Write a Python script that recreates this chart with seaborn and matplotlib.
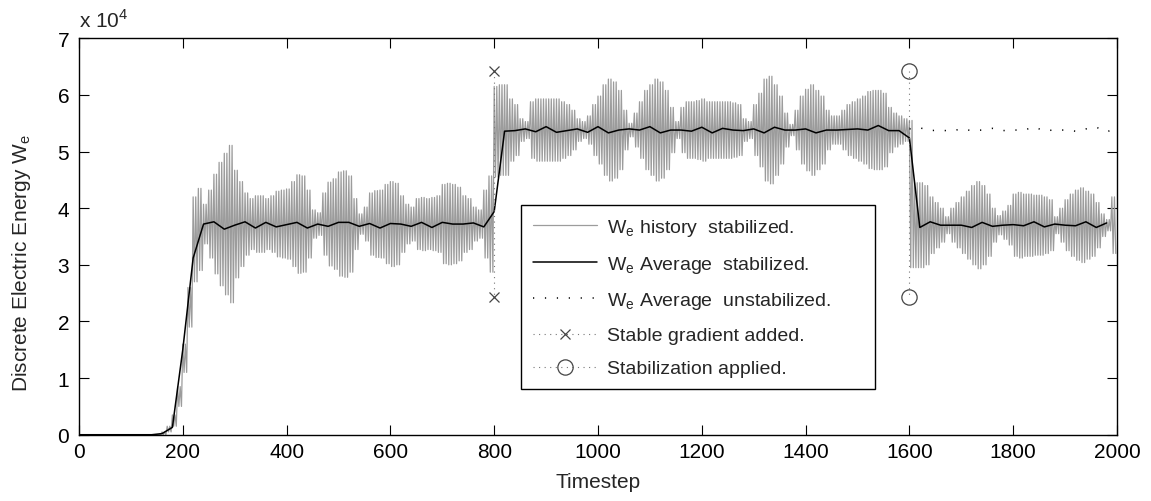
import numpy as np
import matplotlib
matplotlib.use("Agg")
import matplotlib.pyplot as plt
import seaborn as sns

# --- data (energies in units of 1e4) ---
# 20-step average, stabilized run, t = 0..1980
avg_t = np.arange(0, 2000, 20)
avg_stab = [0, 0, 0, 0, 0, 0, 0, 0, 0.02, 0.13,
            1.5, 3.12, 3.72, 3.76, 3.63, 3.70, 3.76, 3.65, 3.75, 3.67,
            3.71, 3.75, 3.65, 3.72, 3.68, 3.75, 3.75, 3.68, 3.73, 3.65,
            3.73, 3.72, 3.68, 3.75, 3.66, 3.75, 3.72, 3.72, 3.74, 3.67,
            3.94, 5.36, 5.37, 5.40, 5.35, 5.44, 5.34, 5.37, 5.40, 5.34,
            5.44, 5.33, 5.38, 5.40, 5.38, 5.44, 5.33, 5.38, 5.38, 5.36,
            5.43, 5.33, 5.41, 5.38, 5.37, 5.40, 5.33, 5.43, 5.38, 5.38,
            5.40, 5.33, 5.38, 5.38, 5.39, 5.40, 5.38, 5.46, 5.37, 5.37,
            5.24, 3.66, 3.76, 3.70, 3.70, 3.70, 3.66, 3.75, 3.68, 3.70,
            3.71, 3.69, 3.76, 3.67, 3.72, 3.70, 3.69, 3.76, 3.66, 3.74]

# 20-step average, unstabilized run after t = 1600
unstab_t = np.arange(1600, 2001, 20)
avg_unstab = [5.40, 5.42, 5.37, 5.38, 5.36, 5.40, 5.37, 5.38, 5.41, 5.37,
              5.38, 5.38, 5.43, 5.37, 5.38, 5.38, 5.36, 5.40, 5.43, 5.35, 5.41]

# history envelope, read every 10 steps (upper / lower swing)
hist_t = np.arange(0, 2000, 10)
hist_hi = [0, 0, 0, 0, 0, 0, 0, 0, 0, 0,
           0, 0, 0, 0, 0, 0, 0.05, 0.15, 0.35, 0.85,
           1.6, 2.6, 4.2, 4.35, 4.07, 4.32, 4.6, 4.81, 4.97, 5.11,
           4.67, 4.47, 4.27, 4.17, 4.22, 4.22, 4.17, 4.22, 4.3, 4.32,
           4.34, 4.47, 4.59, 4.57, 4.32, 3.97, 3.92, 4.27, 4.46, 4.52,
           4.64, 4.66, 4.57, 4.17, 3.9, 4.02, 4.27, 4.31, 4.32, 4.42,
           4.47, 4.44, 4.22, 4.07, 4.02, 4.17, 4.19, 4.17, 4.19, 4.22,
           4.42, 4.44, 4.42, 4.37, 4.22, 4.17, 4.02, 3.97, 4.32, 4.57,
           6.15, 6.18, 6.18, 5.93, 5.83, 5.58, 5.53, 5.88, 5.93, 5.93,
           5.93, 5.93, 5.93, 5.88, 5.83, 5.73, 5.58, 5.53, 5.63, 5.83,
           5.98, 6.18, 6.28, 6.23, 6.08, 5.73, 5.5, 5.68, 5.88, 6.08,
           6.18, 6.28, 6.23, 6.08, 5.78, 5.53, 5.78, 5.88, 5.88, 5.9,
           5.93, 5.88, 5.88, 5.88, 5.88, 5.88, 5.86, 5.83, 5.58, 5.53,
           5.83, 6.03, 6.28, 6.33, 6.18, 5.98, 5.68, 5.48, 5.73, 5.98,
           6.1, 6.18, 6.08, 5.98, 5.73, 5.63, 5.63, 5.73, 5.83, 5.88,
           5.93, 5.98, 6.06, 6.08, 6.08, 6.03, 5.78, 5.68, 5.63, 5.58,
           5.55, 4.45, 4.45, 4.4, 4.2, 4.1, 4.0, 3.85, 4.0, 4.1,
           4.2, 4.3, 4.4, 4.47, 4.4, 4.25, 4.0, 3.87, 3.95, 4.05,
           4.25, 4.28, 4.25, 4.25, 4.23, 4.23, 4.2, 4.15, 3.85, 4.0,
           4.15, 4.25, 4.32, 4.36, 4.3, 4.25, 4.1, 3.9, 3.8, 4.2]
hist_lo = [0, 0, 0, 0, 0, 0, 0, 0, 0, 0,
           0, 0, 0, 0, 0, 0, 0, 0.05, 0.15, 0.5,
           1.1, 1.9, 2.7, 2.9, 3.37, 3.12, 2.84, 2.63, 2.47, 2.33,
           2.77, 2.97, 3.17, 3.27, 3.22, 3.22, 3.27, 3.22, 3.14, 3.12,
           3.1, 2.97, 2.85, 2.87, 3.12, 3.47, 3.52, 3.17, 2.98, 2.92,
           2.8, 2.78, 2.87, 3.27, 3.54, 3.42, 3.17, 3.13, 3.12, 3.02,
           2.97, 3.0, 3.22, 3.37, 3.42, 3.27, 3.25, 3.27, 3.25, 3.22,
           3.02, 3.0, 3.02, 3.07, 3.22, 3.27, 3.42, 3.47, 3.12, 2.87,
           4.55, 4.58, 4.58, 4.83, 4.93, 5.18, 5.23, 4.88, 4.83, 4.83,
           4.83, 4.83, 4.83, 4.88, 4.93, 5.03, 5.18, 5.23, 5.13, 4.93,
           4.78, 4.58, 4.48, 4.53, 4.68, 5.03, 5.26, 5.08, 4.88, 4.68,
           4.58, 4.48, 4.53, 4.68, 4.98, 5.23, 4.98, 4.88, 4.88, 4.86,
           4.83, 4.88, 4.88, 4.88, 4.88, 4.88, 4.9, 4.93, 5.18, 5.23,
           4.93, 4.73, 4.48, 4.43, 4.58, 4.78, 5.08, 5.28, 5.03, 4.78,
           4.66, 4.58, 4.68, 4.78, 5.03, 5.13, 5.13, 5.03, 4.93, 4.88,
           4.83, 4.78, 4.7, 4.68, 4.68, 4.73, 4.98, 5.08, 5.13, 5.18,
           2.95, 2.95, 2.95, 3.0, 3.2, 3.3, 3.4, 3.55, 3.4, 3.3,
           3.2, 3.1, 3.0, 2.93, 3.0, 3.15, 3.4, 3.53, 3.45, 3.35,
           3.15, 3.12, 3.15, 3.15, 3.17, 3.17, 3.2, 3.25, 3.55, 3.4,
           3.25, 3.15, 3.08, 3.04, 3.1, 3.15, 3.3, 3.5, 3.6, 3.2]

# event markers
grad_t = [800, 800]
grad_w = [6.43, 2.43]
stab_t = [1600, 1600]
stab_w = [6.43, 2.43]

labels = ["W$_\\mathregular{e}$ history  stabilized.",
          "W$_\\mathregular{e}$ Average  stabilized.",
          "W$_\\mathregular{e}$ Average  unstabilized.",
          "Stable gradient added.",
          "Stabilization applied."]

# --- style ---
sns.set_style("ticks")
plt.rcParams["font.family"] = ["Liberation Sans", "DejaVu Sans"]
plt.rcParams.update({
    "font.size": 15,
    "mathtext.fontset": "custom",
    "mathtext.rm": "Liberation Sans",
    "xtick.direction": "in",
    "ytick.direction": "in",
    "xtick.top": True,
    "ytick.right": True,
    "xtick.major.size": 7,
    "ytick.major.size": 7,
    "xtick.major.pad": 5,
    "ytick.major.pad": 7,
    "axes.linewidth": 1.0,
    "axes.edgecolor": "black",
    "xtick.color": "black",
    "ytick.color": "black",
})

fig = plt.figure(figsize=(11.51, 5.02), dpi=100)
ax = fig.add_axes([0.0686, 0.132, 0.9019, 0.7897])

# history: two swings per 10-step block between the read envelope values
zx = np.column_stack([hist_t, hist_t + 2.5, hist_t + 5, hist_t + 7.5]).ravel()
zy = np.column_stack([hist_hi, hist_lo, hist_hi, hist_lo]).ravel()
sns.lineplot(x=zx, y=zy, ax=ax, sort=False, estimator=None,
             color="#9c9c9c", lw=0.9, label=labels[0])

sns.lineplot(x=avg_t, y=avg_stab, ax=ax, sort=False, estimator=None,
             color="black", lw=1.1, label=labels[1])
sns.lineplot(x=unstab_t, y=avg_unstab, ax=ax, sort=False, estimator=None,
             color="black", lw=1.1, label=labels[2])
ax.lines[-1].set_linestyle((0, (0.8, 7)))

sns.lineplot(x=grad_t, y=grad_w, ax=ax, sort=False, estimator=None,
             color="#777777", lw=0.8, marker="x", markersize=7,
             markeredgecolor="#444444", markeredgewidth=0.9,
             label=labels[3])
ax.lines[-1].set_linestyle((0, (1, 4)))
sns.lineplot(x=stab_t, y=stab_w, ax=ax, sort=False, estimator=None,
             color="#777777", lw=0.8, marker="o", markersize=11,
             markerfacecolor="none", markeredgecolor="#444444",
             markeredgewidth=0.9, label=labels[4])
ax.lines[-1].set_linestyle((0, (1, 4)))

ax.set_xlim(0, 2000)
ax.set_ylim(0, 7)
ax.set_xticks(np.arange(0, 2001, 200))
ax.set_yticks(np.arange(0, 8, 1))
ax.set_xlabel("Timestep", labelpad=8)
ax.set_ylabel("Discrete Electric Energy W$_\\mathregular{e}$")
ax.yaxis.set_label_coords(-0.044, 0.436)
for s in ax.spines.values():
    s.set_visible(True)
ax.text(0, 1.018, "x 10$^\\mathregular{4}$", transform=ax.transAxes,
        ha="left", va="bottom")

leg = ax.legend(loc="lower left", bbox_to_anchor=(0.426, 0.115, 0.341, 0.477),
                mode="expand", borderaxespad=0, fancybox=False, framealpha=1,
                edgecolor="black", handlelength=3.3, handletextpad=0.5,
                borderpad=0.6, labelspacing=0.8, numpoints=1, fontsize=14)
leg.get_frame().set_linewidth(1.0)

fig.savefig("out.png", dpi=100)
